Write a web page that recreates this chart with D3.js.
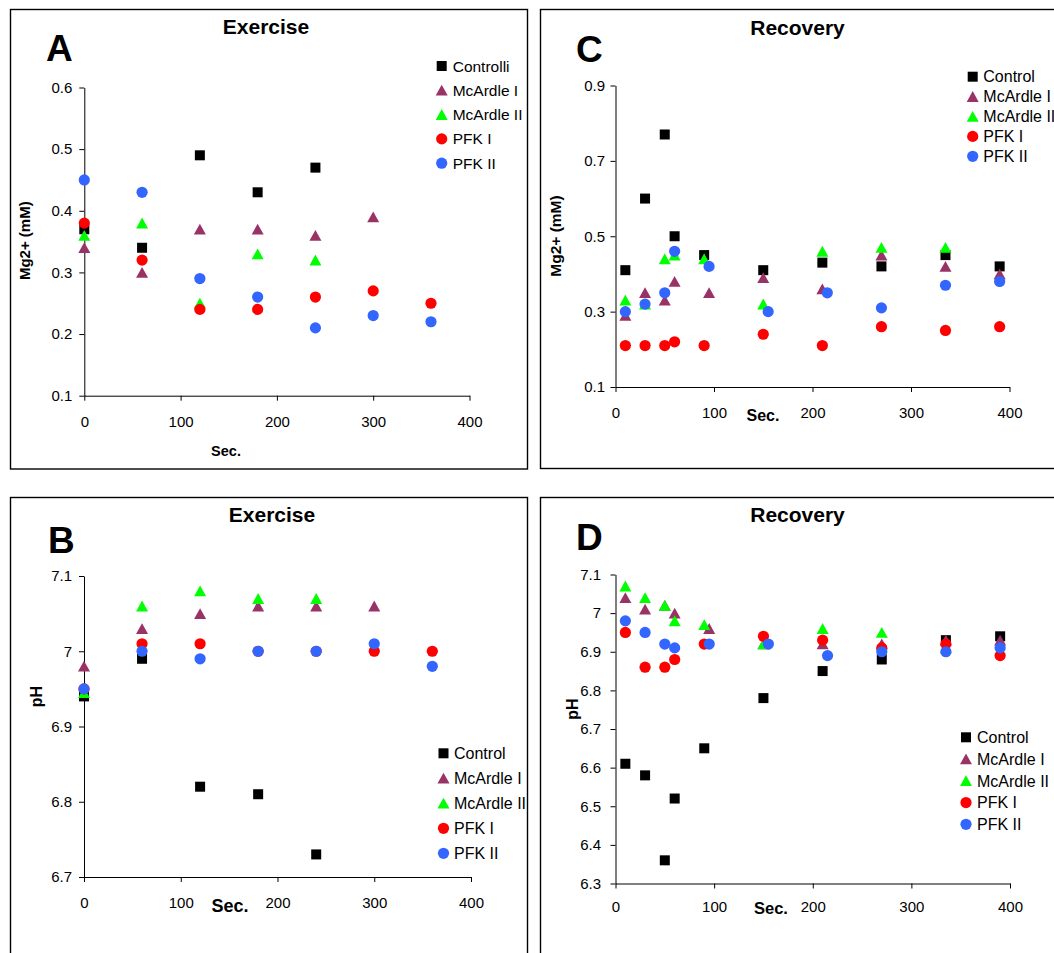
<!DOCTYPE html>
<html><head><meta charset="utf-8">
<script src="https://cdn.jsdelivr.net/npm/d3@7"></script>
<style>
body{margin:0;background:#fff}
svg{display:block}
text{font-family:"Liberation Sans",Arial,Helvetica,sans-serif;fill:#000}
</style>
</head><body>
<svg id="chart" width="1054" height="953"></svg>
<script>
// ---------------- DATA ----------------
const seriesNames   = ["Control", "McArdle I", "McArdle II", "PFK I", "PFK II"];
const legendNamesA  = ["Controlli", "McArdle I", "McArdle II", "PFK I", "PFK II"];
const xTicks        = [0, 100, 200, 300, 400];
const yTicksMgEx    = [0.1, 0.2, 0.3, 0.4, 0.5, 0.6];
const yTicksMgRec   = [0.1, 0.3, 0.5, 0.7, 0.9];
const yTicksPhEx    = [6.7, 6.8, 6.9, 7.0, 7.1];
const yTicksPhRec   = [6.3, 6.4, 6.5, 6.6, 6.7, 6.8, 6.9, 7.0, 7.1];

// Panel A: Exercise, Mg2+ (mM)
const secExercise   = [0, 60, 120, 180, 240, 300, 360];
const mgExControl   = [0.37, 0.34, 0.49, 0.43, 0.47, null, null];
const mgExMcArdle1  = [0.34, 0.30, 0.37, 0.37, 0.36, 0.39, null];
const mgExMcArdle2  = [0.36, 0.38, 0.25, 0.33, 0.32, null, null];
const mgExPFK1      = [0.38, 0.32, 0.24, 0.24, 0.26, 0.27, 0.25];
const mgExPFK2      = [0.45, 0.43, 0.29, 0.26, 0.21, 0.23, 0.22];

// Panel B: Exercise, pH
const phExControl   = [6.94, 6.99, 6.82, 6.81, 6.73, null, null];
const phExMcArdle1  = [6.98, 7.03, 7.05, 7.06, 7.06, 7.06, null];
const phExMcArdle2  = [6.945, 7.06, 7.08, 7.07, 7.07, null, null];
const phExPFK1      = [6.95, 7.01, 7.01, 7.00, 7.00, 7.00, 7.00];
const phExPFK2      = [6.95, 7.00, 6.99, 7.00, 7.00, 7.01, 6.98];

// Panel C: Recovery, Mg2+ (mM)
const secRecControl  = [10, 30, 50, 60, 90, 150, 210, 270, 335, 390];
const secRecMcArdle1 = [10, 30, 50, 60, 95, 150, 210, 270, 335, 390];
const secRecMcArdle2 = [10, 30, 50, 60, 90, 150, 210, 270, 335];
const secRecPFK1     = [10, 30, 50, 60, 90, 150, 210, 270, 335, 390];
const secRecPFK2     = [10, 30, 50, 60, 95, 155, 215, 270, 335, 390];
const mgRecControl   = [0.41, 0.60, 0.77, 0.50, 0.45, 0.41, 0.43, 0.42, 0.45, 0.42];
const mgRecMcArdle1  = [0.29, 0.35, 0.33, 0.38, 0.35, 0.39, 0.36, 0.45, 0.42, 0.40];
const mgRecMcArdle2  = [0.33, 0.32, 0.44, 0.45, 0.44, 0.32, 0.46, 0.47, 0.47];
const mgRecPFK1      = [0.21, 0.21, 0.21, 0.22, 0.21, 0.24, 0.21, 0.26, 0.25, 0.26];
const mgRecPFK2      = [0.30, 0.32, 0.35, 0.46, 0.42, 0.30, 0.35, 0.31, 0.37, 0.38];

// Panel D: Recovery, pH
const phRecControl   = [6.61, 6.58, 6.36, 6.52, 6.65, 6.78, 6.85, 6.88, 6.93, 6.94];
const phRecMcArdle1  = [7.04, 7.01, 7.02, 7.00, 6.96, 6.92, 6.92, 6.92, 6.93, 6.93];
const phRecMcArdle2  = [7.07, 7.04, 7.02, 6.98, 6.97, 6.92, 6.96, 6.95, 6.91];
const phRecPFK1      = [6.95, 6.86, 6.86, 6.88, 6.92, 6.94, 6.93, 6.91, 6.92, 6.89];
const phRecPFK2      = [6.98, 6.95, 6.92, 6.91, 6.92, 6.92, 6.89, 6.90, 6.90, 6.91];

// ---------------- STYLE ----------------
const seriesColors = ["#000000", "#993366", "#00FF00", "#FF0000", "#3366FF"];
const seriesShapes = ["square", "triangle", "triangle", "circle", "circle"];

// ---------------- DRAW ----------------
const svg = d3.select("#chart");
svg.append("rect").attr("width", 1054).attr("height", 953).attr("fill", "#fff");

function marker(g, shape, cx, cy, color) {
  if (shape === "square") {
    g.append("rect").attr("x", cx - 5).attr("y", cy - 5).attr("width", 10).attr("height", 10).attr("fill", color);
  } else if (shape === "circle") {
    g.append("circle").attr("cx", cx).attr("cy", cy).attr("r", 5.6).attr("fill", color);
  } else {
    g.append("path").attr("d", `M${cx},${cy - 5.5}L${cx + 6},${cy + 5.3}L${cx - 6},${cy + 5.3}Z`).attr("fill", color);
  }
}

const fmt = d => String(+d.toFixed(2));

function drawPanel(p) {
  const g = svg.append("g");
  g.append("rect").attr("x", p.frame[0]).attr("y", p.frame[1]).attr("width", p.frame[2]).attr("height", p.frame[3])
    .attr("fill", "none").attr("stroke", "#000").attr("stroke-width", 1.4);

  const x = d3.scaleLinear().domain([0, 400]).range(p.xr);
  const y = d3.scaleLinear().domain(p.yd).range(p.yr);

  const ya = g.append("g").attr("transform", `translate(${p.xr[0]},0)`)
    .call(d3.axisLeft(y).tickValues(p.yTicks).tickFormat(fmt).tickSize(5).tickSizeOuter(0).tickPadding(p.yPad));
  ya.selectAll("text").attr("font-size", 15).attr("font-family", '"Liberation Sans",Arial,sans-serif').attr("fill", "#000");
  ya.selectAll("line,path").attr("stroke", "#000");

  const xa = g.append("g").attr("transform", `translate(0,${p.yr[0]})`)
    .call(d3.axisBottom(x).tickValues(xTicks).tickSize(5).tickSizeOuter(0));
  xa.selectAll("text").attr("font-size", 15).attr("font-family", '"Liberation Sans",Arial,sans-serif')
    .attr("fill", "#000").attr("y", p.xLabelOff).attr("dy", 0);
  xa.selectAll("line,path").attr("stroke", "#000");

  // points, series in order
  p.series.forEach((s, i) => {
    const sg = g.append("g");
    s.xs.forEach((xv, j) => {
      const yv = s.ys[j];
      if (yv == null || xv == null) return;
      marker(sg, seriesShapes[i], x(xv), y(yv), seriesColors[i]);
    });
  });

  // title, letter, axis labels
  g.append("text").attr("x", p.title[1]).attr("y", p.title[2]).attr("text-anchor", "middle")
    .attr("font-size", 21).attr("font-weight", "bold").text(p.title[0]);
  g.append("text").attr("x", p.letter[1]).attr("y", p.letter[2])
    .attr("font-size", 37).attr("font-weight", "bold").text(p.letter[0]);
  g.append("text").attr("transform", `translate(${p.ylab[1]},${p.ylab[2]}) rotate(-90)`)
    .attr("text-anchor", "middle").attr("dy", "0.36em").attr("font-size", p.ylab[3]).attr("font-weight", "bold").text(p.ylab[0]);
  g.append("text").attr("x", p.sec[0]).attr("y", p.sec[1]).attr("text-anchor", "middle")
    .attr("font-size", p.sec[2]).attr("font-weight", "bold").text("Sec.");

  // legend
  const lg = g.append("g");
  p.legendNames.forEach((n, i) => {
    const ly = p.legend.y0 + i * p.legend.dy;
    marker(lg, seriesShapes[i], p.legend.mx, ly, seriesColors[i]);
    lg.append("text").attr("x", p.legend.tx).attr("y", ly).attr("dy", "0.36em")
      .attr("font-size", p.legend.fs).text(n);
  });
}

drawPanel({
  frame: [10.5, 9.5, 517, 459.5],
  xr: [84.3, 469.5], yd: [0.1, 0.6], yr: [395.7, 87.5], yTicks: yTicksMgEx, yPad: 7, xLabelOff: 31,
  title: ["Exercise", 266, 34], letter: ["A", 46, 61], ylab: ["Mg2+ (mM)", 24.5, 240.7, 15], sec: [226, 456, 14.5],
  legend: { mx: 441.7, tx: 452.7, y0: 66, dy: 24.3, fs: 15.5 }, legendNames: legendNamesA,
  series: [
    { xs: secExercise, ys: mgExControl }, { xs: secExercise, ys: mgExMcArdle1 },
    { xs: secExercise, ys: mgExMcArdle2 }, { xs: secExercise, ys: mgExPFK1 }, { xs: secExercise, ys: mgExPFK2 }
  ]
});

drawPanel({
  frame: [540.5, 9.5, 530, 459],
  xr: [615.5, 1009.5], yd: [0.1, 0.9], yr: [387, 85.5], yTicks: yTicksMgRec, yPad: 5.5, xLabelOff: 30.5,
  title: ["Recovery", 797.5, 35], letter: ["C", 576, 62], ylab: ["Mg2+ (mM)", 555, 236, 15.5], sec: [763, 421, 16],
  legend: { mx: 972.7, tx: 983.3, y0: 76.7, dy: 19.9, fs: 16 }, legendNames: seriesNames,
  series: [
    { xs: secRecControl, ys: mgRecControl }, { xs: secRecMcArdle1, ys: mgRecMcArdle1 },
    { xs: secRecMcArdle2, ys: mgRecMcArdle2 }, { xs: secRecPFK1, ys: mgRecPFK1 }, { xs: secRecPFK2, ys: mgRecPFK2 }
  ]
});

drawPanel({
  frame: [10.5, 497.5, 517, 470],
  xr: [84, 471], yd: [6.7, 7.1], yr: [877, 576], yTicks: yTicksPhEx, yPad: 7, xLabelOff: 31,
  title: ["Exercise", 272, 522], letter: ["B", 48, 553], ylab: ["pH", 36.7, 696.7, 16], sec: [230, 911.7, 18],
  legend: { mx: 443.5, tx: 454, y0: 753.3, dy: 25, fs: 16 }, legendNames: seriesNames,
  series: [
    { xs: secExercise, ys: phExControl }, { xs: secExercise, ys: phExMcArdle1 },
    { xs: secExercise, ys: phExMcArdle2 }, { xs: secExercise, ys: phExPFK1 }, { xs: secExercise, ys: phExPFK2 }
  ]
});

drawPanel({
  frame: [540.5, 497.5, 530, 470],
  xr: [615.5, 1010], yd: [6.3, 7.1], yr: [883.5, 574.5], yTicks: yTicksPhRec, yPad: 9.5, xLabelOff: 28,
  title: ["Recovery", 797.5, 522], letter: ["D", 576, 550], ylab: ["pH", 572, 709, 16], sec: [771, 914, 16.5],
  legend: { mx: 966, tx: 977, y0: 737.3, dy: 21.75, fs: 16 }, legendNames: seriesNames,
  series: [
    { xs: secRecControl, ys: phRecControl }, { xs: secRecMcArdle1, ys: phRecMcArdle1 },
    { xs: secRecMcArdle2, ys: phRecMcArdle2 }, { xs: secRecPFK1, ys: phRecPFK1 }, { xs: secRecPFK2, ys: phRecPFK2 }
  ]
});
</script>
</body></html>
